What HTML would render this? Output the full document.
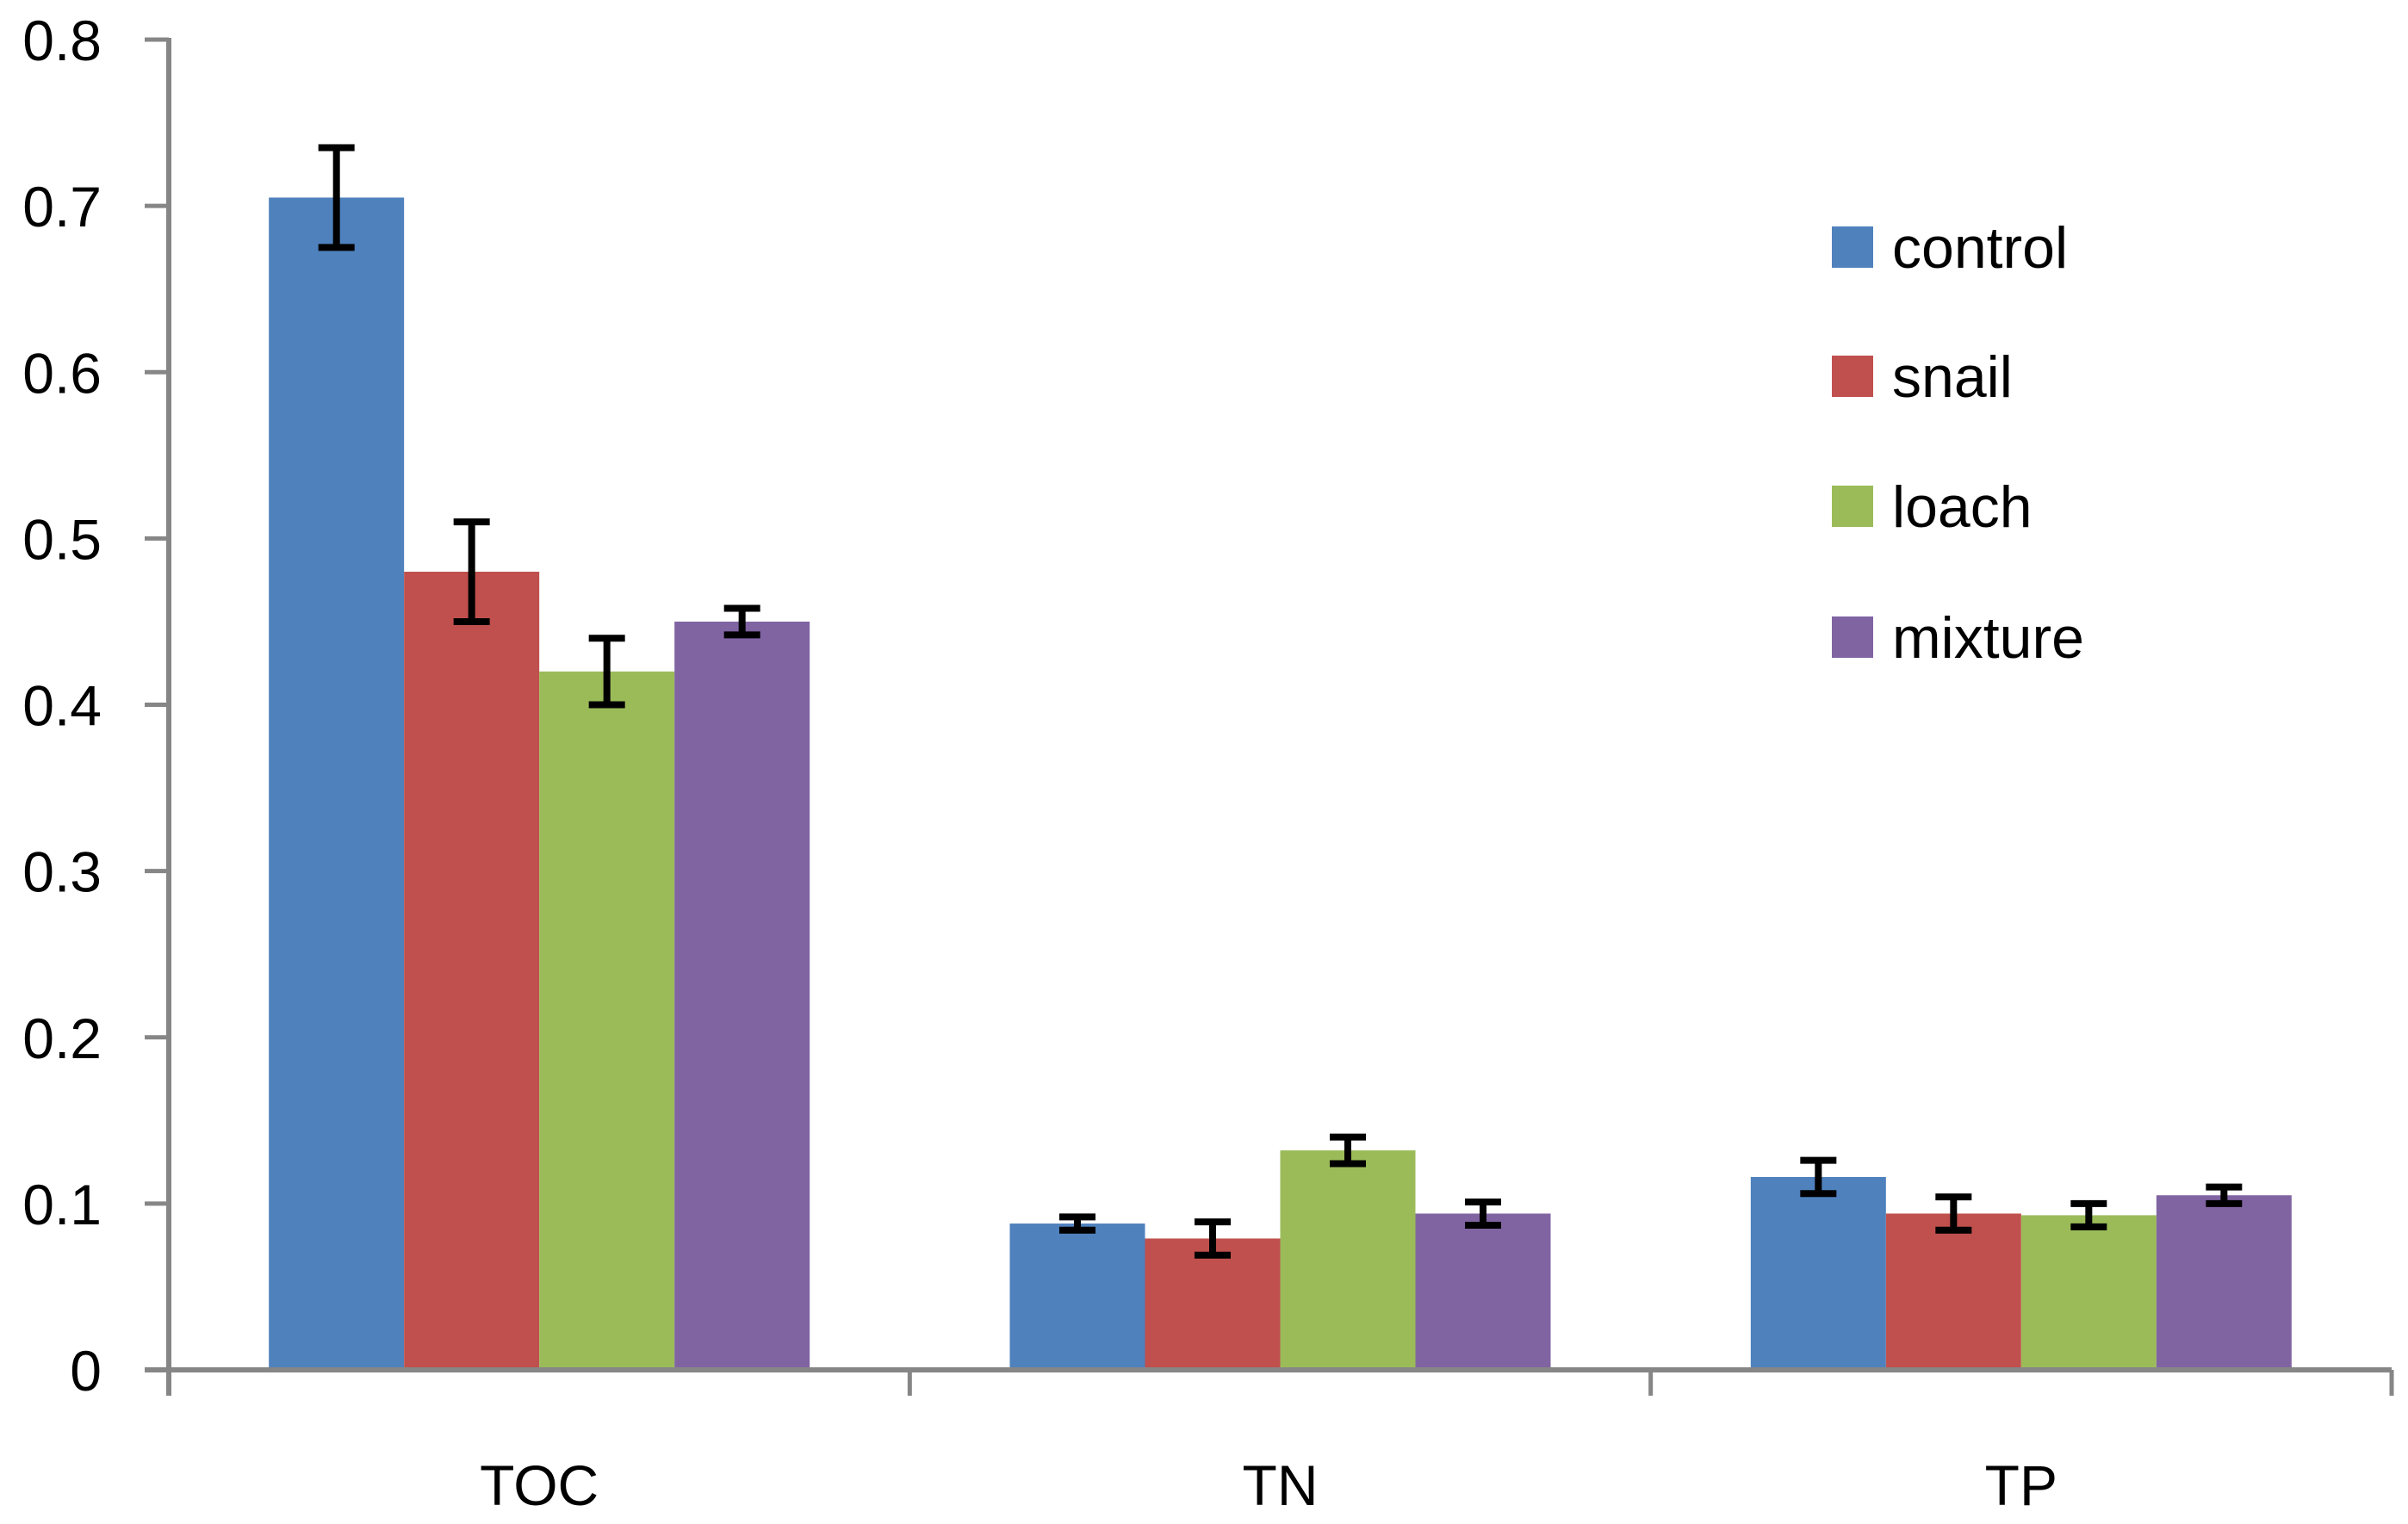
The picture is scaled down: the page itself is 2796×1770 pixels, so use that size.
<!DOCTYPE html>
<html><head><meta charset="utf-8"><style>
html,body{margin:0;padding:0;background:#fff;}
svg{display:block;font-family:"Liberation Sans",sans-serif;}
</style></head><body>
<svg id="chart" width="2796" height="1770" viewBox="0 0 2796 1770" xmlns="http://www.w3.org/2000/svg"></svg>
<script>
const categories = ["TOC", "TN", "TP"];
const seriesNames = ["control", "snail", "loach", "mixture"];
const controlValues = [0.705, 0.088, 0.116];
const snailValues = [0.48, 0.079, 0.094];
const loachValues = [0.42, 0.132, 0.093];
const mixtureValues = [0.45, 0.094, 0.105];
const controlErr = [0.03, 0.004, 0.01];
const snailErr = [0.03, 0.01, 0.01];
const loachErr = [0.02, 0.008, 0.007];
const mixtureErr = [0.008, 0.007, 0.005];
const yTicks = [0, 0.1, 0.2, 0.3, 0.4, 0.5, 0.6, 0.7, 0.8];
const yTickLabels = ["0", "0.1", "0.2", "0.3", "0.4", "0.5", "0.6", "0.7", "0.8"];

const colors = ["#4f81bd", "#c0504d", "#9bbb59", "#8064a2"];
const values = [controlValues, snailValues, loachValues, mixtureValues];
const errs = [controlErr, snailErr, loachErr, mixtureErr];
const NS = "http://www.w3.org/2000/svg";
const svg = document.getElementById("chart");
const X0 = 196, X1 = 2777, Y0 = 1591, YTOP = 46, YMAX = 0.8;
const catW = (X1 - X0) / categories.length;
const barW = 157;
function y(v){ return Y0 - (v / YMAX) * (Y0 - YTOP); }
function catX(i){ return X0 + i * catW; }
function mk(tag, attrs, text){
  const e = document.createElementNS(NS, tag);
  for (const k in attrs) e.setAttribute(k, attrs[k]);
  if (text !== undefined) e.textContent = text;
  svg.appendChild(e);
  return e;
}
values.forEach((arr, s) => {
  arr.forEach((v, i) => {
    const bx = catX(i) + (catW - 4 * barW) / 2 + s * barW;
    const r = mk("rect", {x: bx, y: y(v), width: barW, height: Y0 - y(v), fill: colors[s]});
    
    
  });
});
values.forEach((arr, s) => {
  arr.forEach((v, i) => {
    const cx = catX(i) + (catW - 4 * barW) / 2 + s * barW + barW / 2;
    const e = errs[s][i];
    const g = document.createElementNS(NS, "path");
    g.setAttribute("d", `M${cx},${y(v+e)}V${y(v-e)}M${cx-21},${y(v+e)}H${cx+21}M${cx-21},${y(v-e)}H${cx+21}`);
    g.setAttribute("stroke", "#000"); g.setAttribute("stroke-width", "8"); g.setAttribute("fill", "none");
    
    
    svg.appendChild(g);
  });
});
const ya = mk("line", {x1: X0, y1: YTOP - 2, x2: X0, y2: Y0 + 30, stroke: "#868686", "stroke-width": 6});


const xa = mk("line", {x1: X0 - 28, y1: Y0, x2: X1, y2: Y0, stroke: "#868686", "stroke-width": 6});


yTicks.forEach((t, i) => {
  const tk = mk("line", {x1: X0 - 28, y1: y(t), x2: X0, y2: y(t), stroke: "#868686", "stroke-width": 5});
  
  
  const lb = mk("text", {x: 118, y: y(t) + 24, "text-anchor": "end", "font-size": 66, fill: "#000"}, yTickLabels[i]);
  
  
});
for (let i = 0; i <= categories.length; i++) {
  const tk = mk("line", {x1: catX(i), y1: Y0, x2: catX(i), y2: Y0 + 30, stroke: "#868686", "stroke-width": 5});
  
  
}
categories.forEach((c, i) => {
  const lb = mk("text", {x: catX(i) + catW / 2, y: 1748, "text-anchor": "middle", "font-size": 66, fill: "#000"}, c);
  
  
});
const legendY = [287, 437, 588, 740];
seriesNames.forEach((n, s) => {
  const sw = mk("rect", {x: 2127, y: legendY[s] - 24, width: 48, height: 48, fill: colors[s]});
  
  
  const t = mk("text", {x: 2197, y: legendY[s] + 24, "font-size": 68, fill: "#000"}, n);
  
  
});
</script>
</body></html>
